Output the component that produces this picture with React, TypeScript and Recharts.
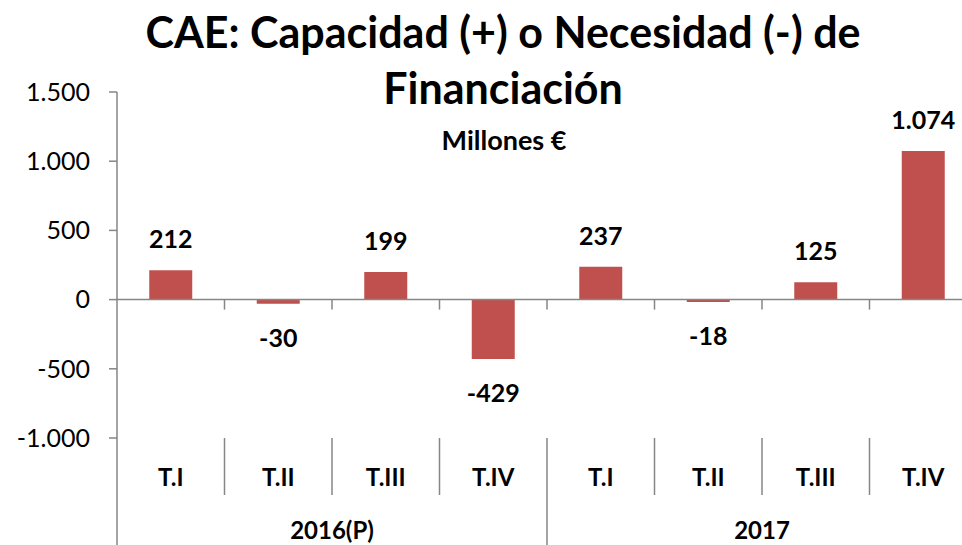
import React from "react";
import {
  BarChart,
  Bar,
  XAxis,
  YAxis,
  ReferenceLine,
  LabelList,
} from "recharts";

const quarters = ["T.I", "T.II", "T.III", "T.IV", "T.I", "T.II", "T.III", "T.IV"];
const years = ["2016(P)", "2016(P)", "2016(P)", "2016(P)", "2017", "2017", "2017", "2017"];
const values = [212, -30, 199, -429, 237, -18, 125, 1074];
const yTicks = [-1000, -500, 0, 500, 1000, 1500];

const AXIS_COLOR = "#868686";
const BAR_COLOR = "#C0504D";
const FONT = "Lato, 'Open Sans', sans-serif";

const data = quarters.map((q, i) => ({ key: `${years[i]}-${q}`, q, year: years[i], value: values[i] }));

function fmt(v: number): string {
  const s = Math.abs(v).toString().replace(/\B(?=(\d{3})+(?!\d))/g, ".");
  return v < 0 ? `-${s}` : s;
}

function CategoryTick(props: any) {
  const { x, y, index, visibleTicksCount, width } = props;
  const n = visibleTicksCount || data.length;
  const band = (width || 860) / n;
  const row = data[index];
  const lastInGroup = index === n - 1 || data[index + 1].year !== row.year;
  const midGroup = index % 4 === 1;
  return (
    <g>
      {index === 0 && (
        <line x1={x - band / 2} x2={x - band / 2} y1={y} y2={y + 130} stroke={AXIS_COLOR} strokeWidth={1.5} />
      )}
      <line
        x1={x + band / 2}
        x2={x + band / 2}
        y1={y}
        y2={lastInGroup ? y + 130 : y + 57}
        stroke={AXIS_COLOR}
        strokeWidth={1.5}
      />
      <text x={x} y={y + 48} textAnchor="middle" fontFamily={FONT} fontWeight={700} fontSize={24} fill="#000">
        {row.q}
      </text>
      {midGroup && (
        <text x={x + band / 2} y={y + 101} textAnchor="middle" fontFamily={FONT} fontWeight={700} fontSize={24} fill="#000">
          {row.year}
        </text>
      )}
    </g>
  );
}

function ZeroLine(props: any) {
  const { x1, x2, y1 } = props;
  const n = data.length;
  const step = (x2 - x1) / n;
  return (
    <g>
      <line x1={x1} x2={x2} y1={y1} y2={y1} stroke={AXIS_COLOR} strokeWidth={1.5} />
      {data.slice(1).map((d, i) => (
        <line
          key={d.key}
          x1={x1 + step * (i + 1)}
          x2={x1 + step * (i + 1)}
          y1={y1}
          y2={y1 + 10}
          stroke={AXIS_COLOR}
          strokeWidth={1.5}
        />
      ))}
    </g>
  );
}

function ValueLabel(props: any) {
  const { x, y, width, height, value } = props;
  const top = Math.min(y, y + height);
  const bottom = Math.max(y, y + height);
  const ty = value >= 0 ? top - 22 : bottom + 43;
  return (
    <text x={x + width / 2} y={ty} textAnchor="middle" fontFamily={FONT} fontWeight={700} fontSize={25} fill="#000">
      {fmt(value)}
    </text>
  );
}

export default function App() {
  return (
    <div
      style={{
        position: "absolute",
        left: 0,
        top: 0,
        width: 962,
        height: 545,
        overflow: "hidden",
        background: "#fff",
      }}
    >
      <BarChart
        width={1000}
        height={560}
        data={data}
        margin={{ top: 92, right: 23, left: 0, bottom: 0 }}
        barCategoryGap="30%"
      >
        <XAxis
          dataKey="key"
          axisLine={false}
          tickLine={false}
          tickSize={0}
          tickMargin={0}
          interval={0}
          height={122}
          tick={<CategoryTick />}
        />
        <YAxis
          domain={[-1000, 1500]}
          ticks={yTicks}
          width={117}
          axisLine={{ stroke: AXIS_COLOR, strokeWidth: 1.5 }}
          tickLine={{ stroke: AXIS_COLOR, strokeWidth: 1.5 }}
          tickSize={8}
          tickMargin={19}
          tickFormatter={fmt}
          tick={{ fill: "#000", fontFamily: FONT, fontSize: 25 }}
        />
        <ReferenceLine y={0} shape={<ZeroLine />} />
        <Bar dataKey="value" fill={BAR_COLOR} isAnimationActive={false}>
          <LabelList dataKey="value" content={<ValueLabel />} />
        </Bar>
      </BarChart>
      <div
        style={{
          position: "absolute",
          left: 0,
          width: 1006,
          top: 4,
          textAlign: "center",
          fontFamily: FONT,
          fontWeight: 700,
          fontSize: 43,
          lineHeight: "56px",
          color: "#000",
        }}
      >
        CAE: Capacidad (+) o Necesidad (-) de
        <br />
        Financiación
      </div>
      <div
        style={{
          position: "absolute",
          left: 0,
          width: 1008,
          top: 124,
          textAlign: "center",
          fontFamily: FONT,
          fontWeight: 700,
          fontSize: 27,
          lineHeight: "32px",
          color: "#000",
        }}
      >
        Millones €
      </div>
    </div>
  );
}
